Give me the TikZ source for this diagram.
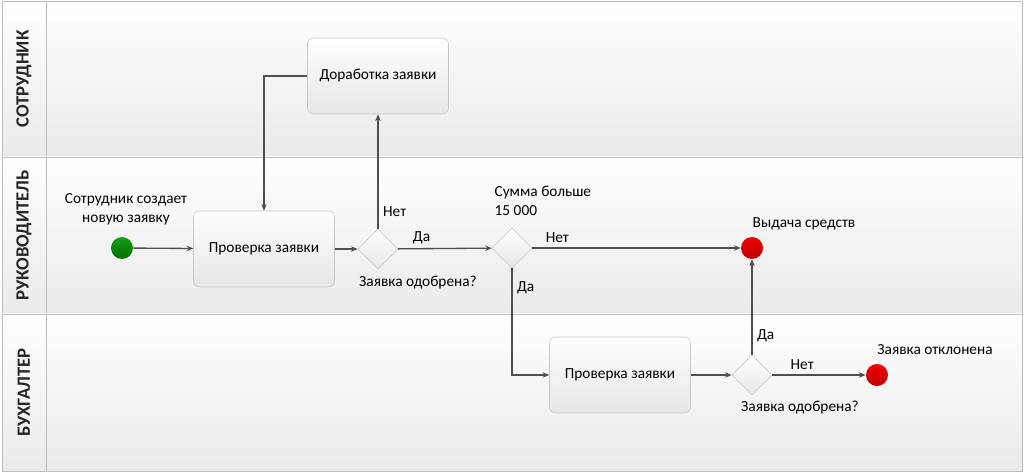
\documentclass[tikz,border=0pt]{standalone}
\usepackage{fontspec}
\setmainfont{Carlito}
\usetikzlibrary{shapes.geometric,arrows.meta}
\definecolor{laneline}{HTML}{BDBDBD}
\definecolor{lanefill}{HTML}{EAEAEA}
\definecolor{boxline}{HTML}{C6C6C6}
\definecolor{boxfill}{HTML}{E6E6E6}
\definecolor{flow}{HTML}{4F4F4F}
\definecolor{lanetext}{HTML}{262626}

\begin{document}
\begin{tikzpicture}[x=0.75pt,y=-0.75pt,
    font=\fontsize{11.5}{14}\selectfont,
    task/.style={draw=boxline,rounded corners=4.5pt,top color=white,bottom color=boxfill,
      minimum width=105.75pt,minimum height=57pt,inner sep=2pt},
    gate/.style={diamond,draw=boxline,top color=white,bottom color=boxfill,
      minimum size=30pt,inner sep=0pt},
    flowline/.style={draw=flow,line width=1pt,-{Stealth[length=5pt,width=4pt]}}]
    \useasboundingbox (0,0) rectangle (1024,473);
    % lanes
    \foreach \ytop/\ybot/\lname [count=\i] in {1/157/СОТРУДНИК,157/314/РУКОВОДИТЕЛЬ,314/471/БУХГАЛТЕР}{
      \fill[top color=white,bottom color=lanefill] (2,\ytop) rectangle (1022,\ybot);
      \draw[laneline] (2,\ytop) rectangle (1022,\ybot);
      \draw[laneline] (46,\ytop) -- (46,\ybot);
      \node[rotate=90,text=lanetext,font=\bfseries\fontsize{14}{16}\selectfont] (lane\i) at (24,{(\ytop+\ybot)/2}) {\lname};
    }
    % events, tasks, gateways
    \node[circle,minimum size=16.5pt,inner sep=0pt,top color={rgb,255:red,20;green,160;blue,20},bottom color={rgb,255:red,0;green,110;blue,0}] (start) at (122,248) {};
    \node[align=center] (startlbl) at (126,209) {Сотрудник создает\\новую заявку};
    \node[task] (check1) at (264,249) {Проверка заявки};
    \node[gate] (gate1) at (378,249) {};
    \node (gate1lbl) at (418,283) {Заявка одобрена?};
    \node[task] (rework) at (378,76) {Доработка заявки};
    \node[gate] (gate2) at (512,248) {};
    \node[align=left,anchor=west] (gate2lbl) at (490,201) {Сумма больше\\15 000};
    \node[circle,minimum size=16.5pt,inner sep=0pt,top color={rgb,255:red,240;green,0;blue,0},bottom color={rgb,255:red,190;green,0;blue,0}] (paid) at (752,248) {};
    \node (paidlbl) at (804,224) {Выдача средств};
    \node[task] (check2) at (620,375) {Проверка заявки};
    \node[gate] (gate3) at (752,375) {};
    \node (gate3lbl) at (800,408) {Заявка одобрена?};
    \node[circle,minimum size=16.5pt,inner sep=0pt,top color={rgb,255:red,240;green,0;blue,0},bottom color={rgb,255:red,190;green,0;blue,0}] (reject) at (877,375) {};
    \node (rejectlbl) at (935,350) {Заявка отклонена};
    % flows
    \path[flowline] (start) edge (check1);
    \path[flowline] (check1) edge (gate1);
    \path[flowline] (gate1) edge node[pos=0.15,right] {Нет} (rework);
    \draw[flowline] (rework.west) -| (check1.north);
    \path[flowline] (gate1) edge node[pos=0.25,above] {Да} (gate2);
    \path[flowline] (gate2) edge node[pos=0.12,above] {Нет} (paid);
    \draw[flowline] (gate2.south) |- node[pos=0.09,right] {Да} (check2.west);
    \path[flowline] (check2) edge (gate3);
    \path[flowline] (gate3) edge node[pos=0.2,right] {Да} (paid);
    \path[flowline] (gate3) edge node[pos=0.32,above] {Нет} (reject);
  \end{tikzpicture}
\end{document}
